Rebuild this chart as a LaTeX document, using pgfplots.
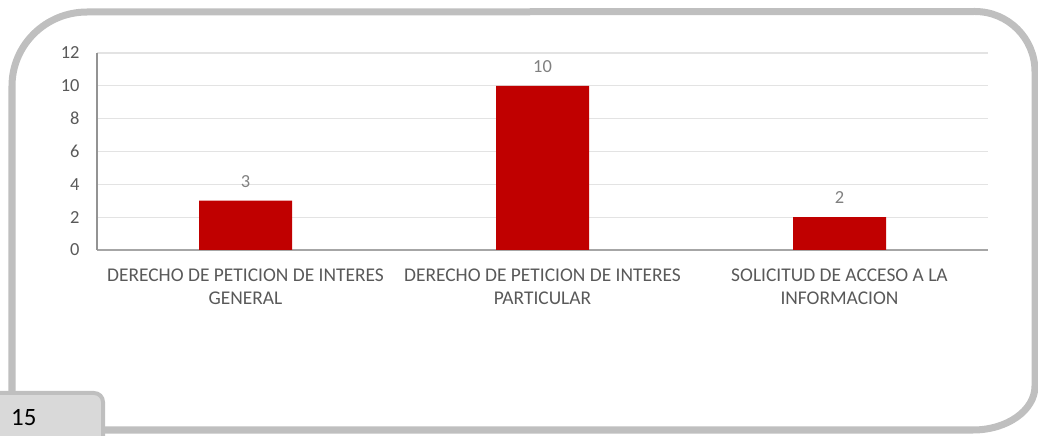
\documentclass[border=0pt]{standalone}
\usepackage{fontspec}
\setmainfont{Carlito}
\usepackage{pgfplots}
\pgfplotsset{compat=1.18}
\definecolor{barred}{HTML}{C00000}
\definecolor{framegray}{HTML}{BFBFBF}
\definecolor{boxgray}{HTML}{D9D9D9}
\definecolor{tickgray}{HTML}{595959}
\definecolor{valgray}{HTML}{808080}
\definecolor{gridgray}{HTML}{E3E3E3}
\begin{document}
\begin{tikzpicture}
\path[use as bounding box] (0bp,0bp) rectangle (1038bp,436bp);
\begin{scope}[x=1bp,y=1bp]
\clip (0,0) rectangle (1038,436);
\draw[line width=7bp, color=framegray] (12,40) -- (12,350)
  arc[start angle=180, end angle=90, x radius=75, y radius=74] -- (975,424.5)
  arc[start angle=90, end angle=0, radius=60] -- (1035,50)
  arc[start angle=0, end angle=-90, x radius=62, y radius=44] -- (100,6);
\draw[fill=boxgray, draw=framegray, line width=4bp, rounded corners=9bp] (-10,-10) rectangle (103,43);
\node[anchor=base west, inner sep=0pt, font=\fontsize{25}{28}\selectfont] at (11,11) {15};
\end{scope}
\begin{axis}[
  at={(97bp,186bp)}, anchor=south west,
  scale only axis, width=891bp, height=197bp,
  xmin=-0.5, xmax=2.5, ymin=0, ymax=12,
  ytick={0,2,...,12},
  xtick={0,1,2},
  xticklabels={{DERECHO DE PETICION DE INTERES\\GENERAL},{DERECHO DE PETICION DE INTERES\\PARTICULAR},{SOLICITUD DE ACCESO A LA\\INFORMACION}},
  xticklabel style={align=center, font=\fontsize{19.5}{23}\selectfont, text=tickgray, yshift=-15bp},
  yticklabel style={font=\fontsize{18.5}{21}\selectfont, text=tickgray, xshift=-14bp},
  /pgf/number format/assume math mode=true,
  major tick length=0pt,
  axis lines*=left,
  x axis line style={draw=gray!70, line width=1.5bp},
  y axis line style={draw=gray!85, line width=1.5bp},
  ymajorgrids,
  grid style={draw=gridgray, line width=1.2bp},
  ybar, bar width=93bp,
  nodes near coords,
  every node near coord/.append style={font=\fontsize{18.5}{21}\selectfont, text=valgray, yshift=10bp},
]
\addplot[fill=barred, draw=none] coordinates {(0,3) (1,10) (2,2)};
\end{axis}
\end{tikzpicture}
\end{document}
